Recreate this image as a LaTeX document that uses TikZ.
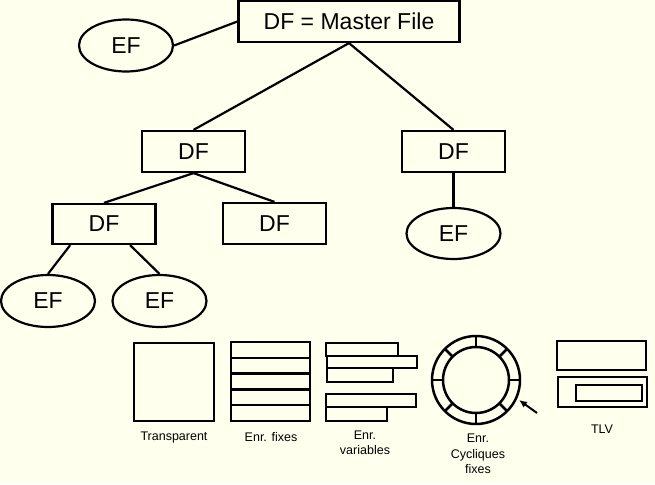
\documentclass[tikz,border=0pt]{standalone}
\usepackage{fontspec}
\setmainfont{Liberation Sans}
\usetikzlibrary{shapes.geometric,arrows.meta,calc}
\definecolor{bgyellow}{HTML}{FFFFEE}
\tikzset{
  dfbox/.style={draw, line width=2.2pt, rectangle, inner sep=0pt, minimum width=103pt, minimum height=41pt, font=\fontsize{23}{27}\selectfont},
  efell/.style={draw, line width=2.2pt, ellipse, inner sep=0pt, minimum width=94pt, minimum height=52pt, font=\fontsize{23}{27}\selectfont},
  conn/.style={line width=2.2pt},
  shp/.style={line width=2.5pt},
  lbl/.style={align=center, inner sep=0pt, font=\fontsize{12.5}{15.5}\selectfont}
}
\begin{document}
\begin{tikzpicture}[x=1pt,y=-1pt]
\fill[bgyellow] (0,0) rectangle (655,484);
\useasboundingbox (0,0) rectangle (655,484);
% tree
\node[dfbox, minimum width=221pt] (top) at (349,21.5) {DF = Master File};
\node[efell] (ef0) at (126,45.5) {EF};
\node[dfbox] (df1) at (193.5,151.5) {DF};
\node[dfbox] (df2) at (453.5,151.5) {DF};
\node[dfbox, minimum height=40pt] (df3) at (104,224) {DF};
\node[dfbox] (df4) at (274.5,223.5) {DF};
\node[efell, minimum height=51pt] (ef2) at (453.5,233.5) {EF};
\node[efell] (ef3) at (48,301) {EF};
\node[efell] (ef4) at (159.5,301) {EF};
\draw[conn] (ef0.east) -- (top.west);
\draw[conn] (top.south) -- (df1.north);
\draw[conn] (top.south) -- (df2.north);
\draw[conn] (df2.south) -- (ef2.north);
\draw[conn] (df1.south) -- (df3.north);
\draw[conn] (df1.south) -- (df4.north);
\draw[conn] (df3.212) -- (ef3.north);
\draw[conn] (df3.321) -- (ef4.north);
% Transparent
\draw[shp] (134,343) rectangle (214,421);
\node[lbl] (l1) at (174,437) {Transparent};
% Enr. fixes
\draw[shp] (231,342) rectangle (310,421);
\foreach \yy in {357.8,373.6,389.4,405.2} \draw[shp] (231,\yy) -- (310,\yy);
\node[lbl] (l2) at (271,437) {Enr. fixes};
% Enr. variables
\draw[shp] (326,343) rectangle (398,356);
\draw[shp] (327,356) rectangle (417,368);
\draw[shp] (327,368) rectangle (393,382);
\draw[shp] (326,394) rectangle (416,407);
\draw[shp] (326,407) rectangle (387,421);
\node[lbl] (l3) at (365,443) {Enr.\\variables};
% Enr. cycliques fixes
\coordinate (rc) at (476,380);
\draw[shp] (rc) circle (44);
\draw[shp] (rc) circle (33);
\foreach \a in {0,45,...,315} \draw[shp] ($(rc)+(\a:33)$) -- ($(rc)+(\a:44)$);
\coordinate (arrs) at (537,413);
\coordinate (arre) at (519,400);
\draw[line width=2pt, -{Latex[length=8pt,width=7pt]}] (arrs) -- (arre);
\node[lbl] (l4) at (478,454) {Enr.\\Cycliques\\fixes};
% TLV
\draw[shp] (557,341) rectangle (646,370);
\draw[shp] (558,377) rectangle (647,407);
\draw[shp] (576,385) rectangle (642,401);
\node[lbl] (l5) at (602,429) {TLV};
\end{tikzpicture}
\end{document}
